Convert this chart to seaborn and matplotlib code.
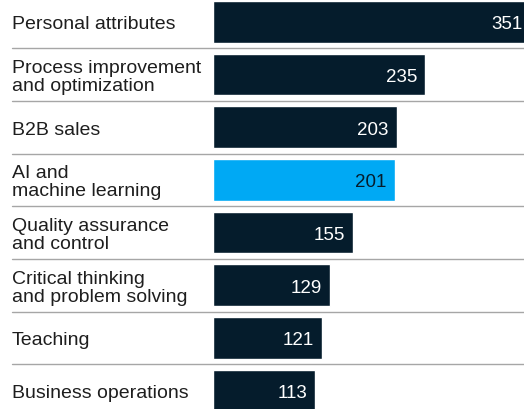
import matplotlib
matplotlib.use("Agg")
import matplotlib.pyplot as plt
import matplotlib.transforms as mtransforms
import seaborn as sns
import pandas as pd

# data
skills = [
    "Personal attributes",
    "Process improvement\nand optimization",
    "B2B sales",
    "AI and\nmachine learning",
    "Quality assurance\nand control",
    "Critical thinking\nand problem solving",
    "Teaching",
    "Business operations",
]
counts = [351, 235, 203, 201, 155, 129, 121, 113]
highlight = "AI and\nmachine learning"

NAVY = "#051C2C"
CYAN = "#00A9F4"

sns.set_theme(style="white")
plt.rcParams["font.family"] = ["Liberation Sans", "DejaVu Sans"]

df = pd.DataFrame({"skill": skills, "count": counts})
palette = {s: (CYAN if s == highlight else NAVY) for s in skills}

W, H = 524, 410
fig = plt.figure(figsize=(W / 100, H / 100), dpi=100)
ax = fig.add_axes([213 / W, 0, (W - 213) / W, 1])

sns.barplot(data=df, x="count", y="skill", hue="skill", palette=palette,
            width=0.79, legend=False, ax=ax, saturation=1)

ax.set_xlim(0, 344)
ax.set_ylim(7.35, -0.434)
ax.set_xlabel("")
ax.set_ylabel("")
ax.set_xticks([])
ax.set_yticks([])
for sp in ax.spines.values():
    sp.set_visible(False)

# category labels on the left, in figure x / data y (nudged down ~2px)
shift = mtransforms.ScaledTranslation(0, -2 / 100, fig.dpi_scale_trans)
trans = mtransforms.blended_transform_factory(fig.transFigure, ax.transData) + shift
for i, s in enumerate(skills):
    ax.text(12 / W, i, s, transform=trans, ha="left", va="center",
            fontsize=14, color="#1e1e1e", linespacing=1.08, clip_on=False)

# value labels inside bar ends
for i, (s, v) in enumerate(zip(skills, counts)):
    ax.annotate(str(v), xy=(v, i), xytext=(-5.8, -1.4), textcoords="offset points",
                ha="right", va="center", fontsize=13.5,
                color=("#051C2C" if s == highlight else "white"),
                annotation_clip=False)

# thin separators between rows
x0 = (12 - 213) / (W - 213)
for i in range(len(skills) - 1):
    ax.axhline(i + 0.5, xmin=x0, xmax=1, color="#a6a6a6", lw=1.0, clip_on=False)

fig.savefig("out.png", dpi=100)
